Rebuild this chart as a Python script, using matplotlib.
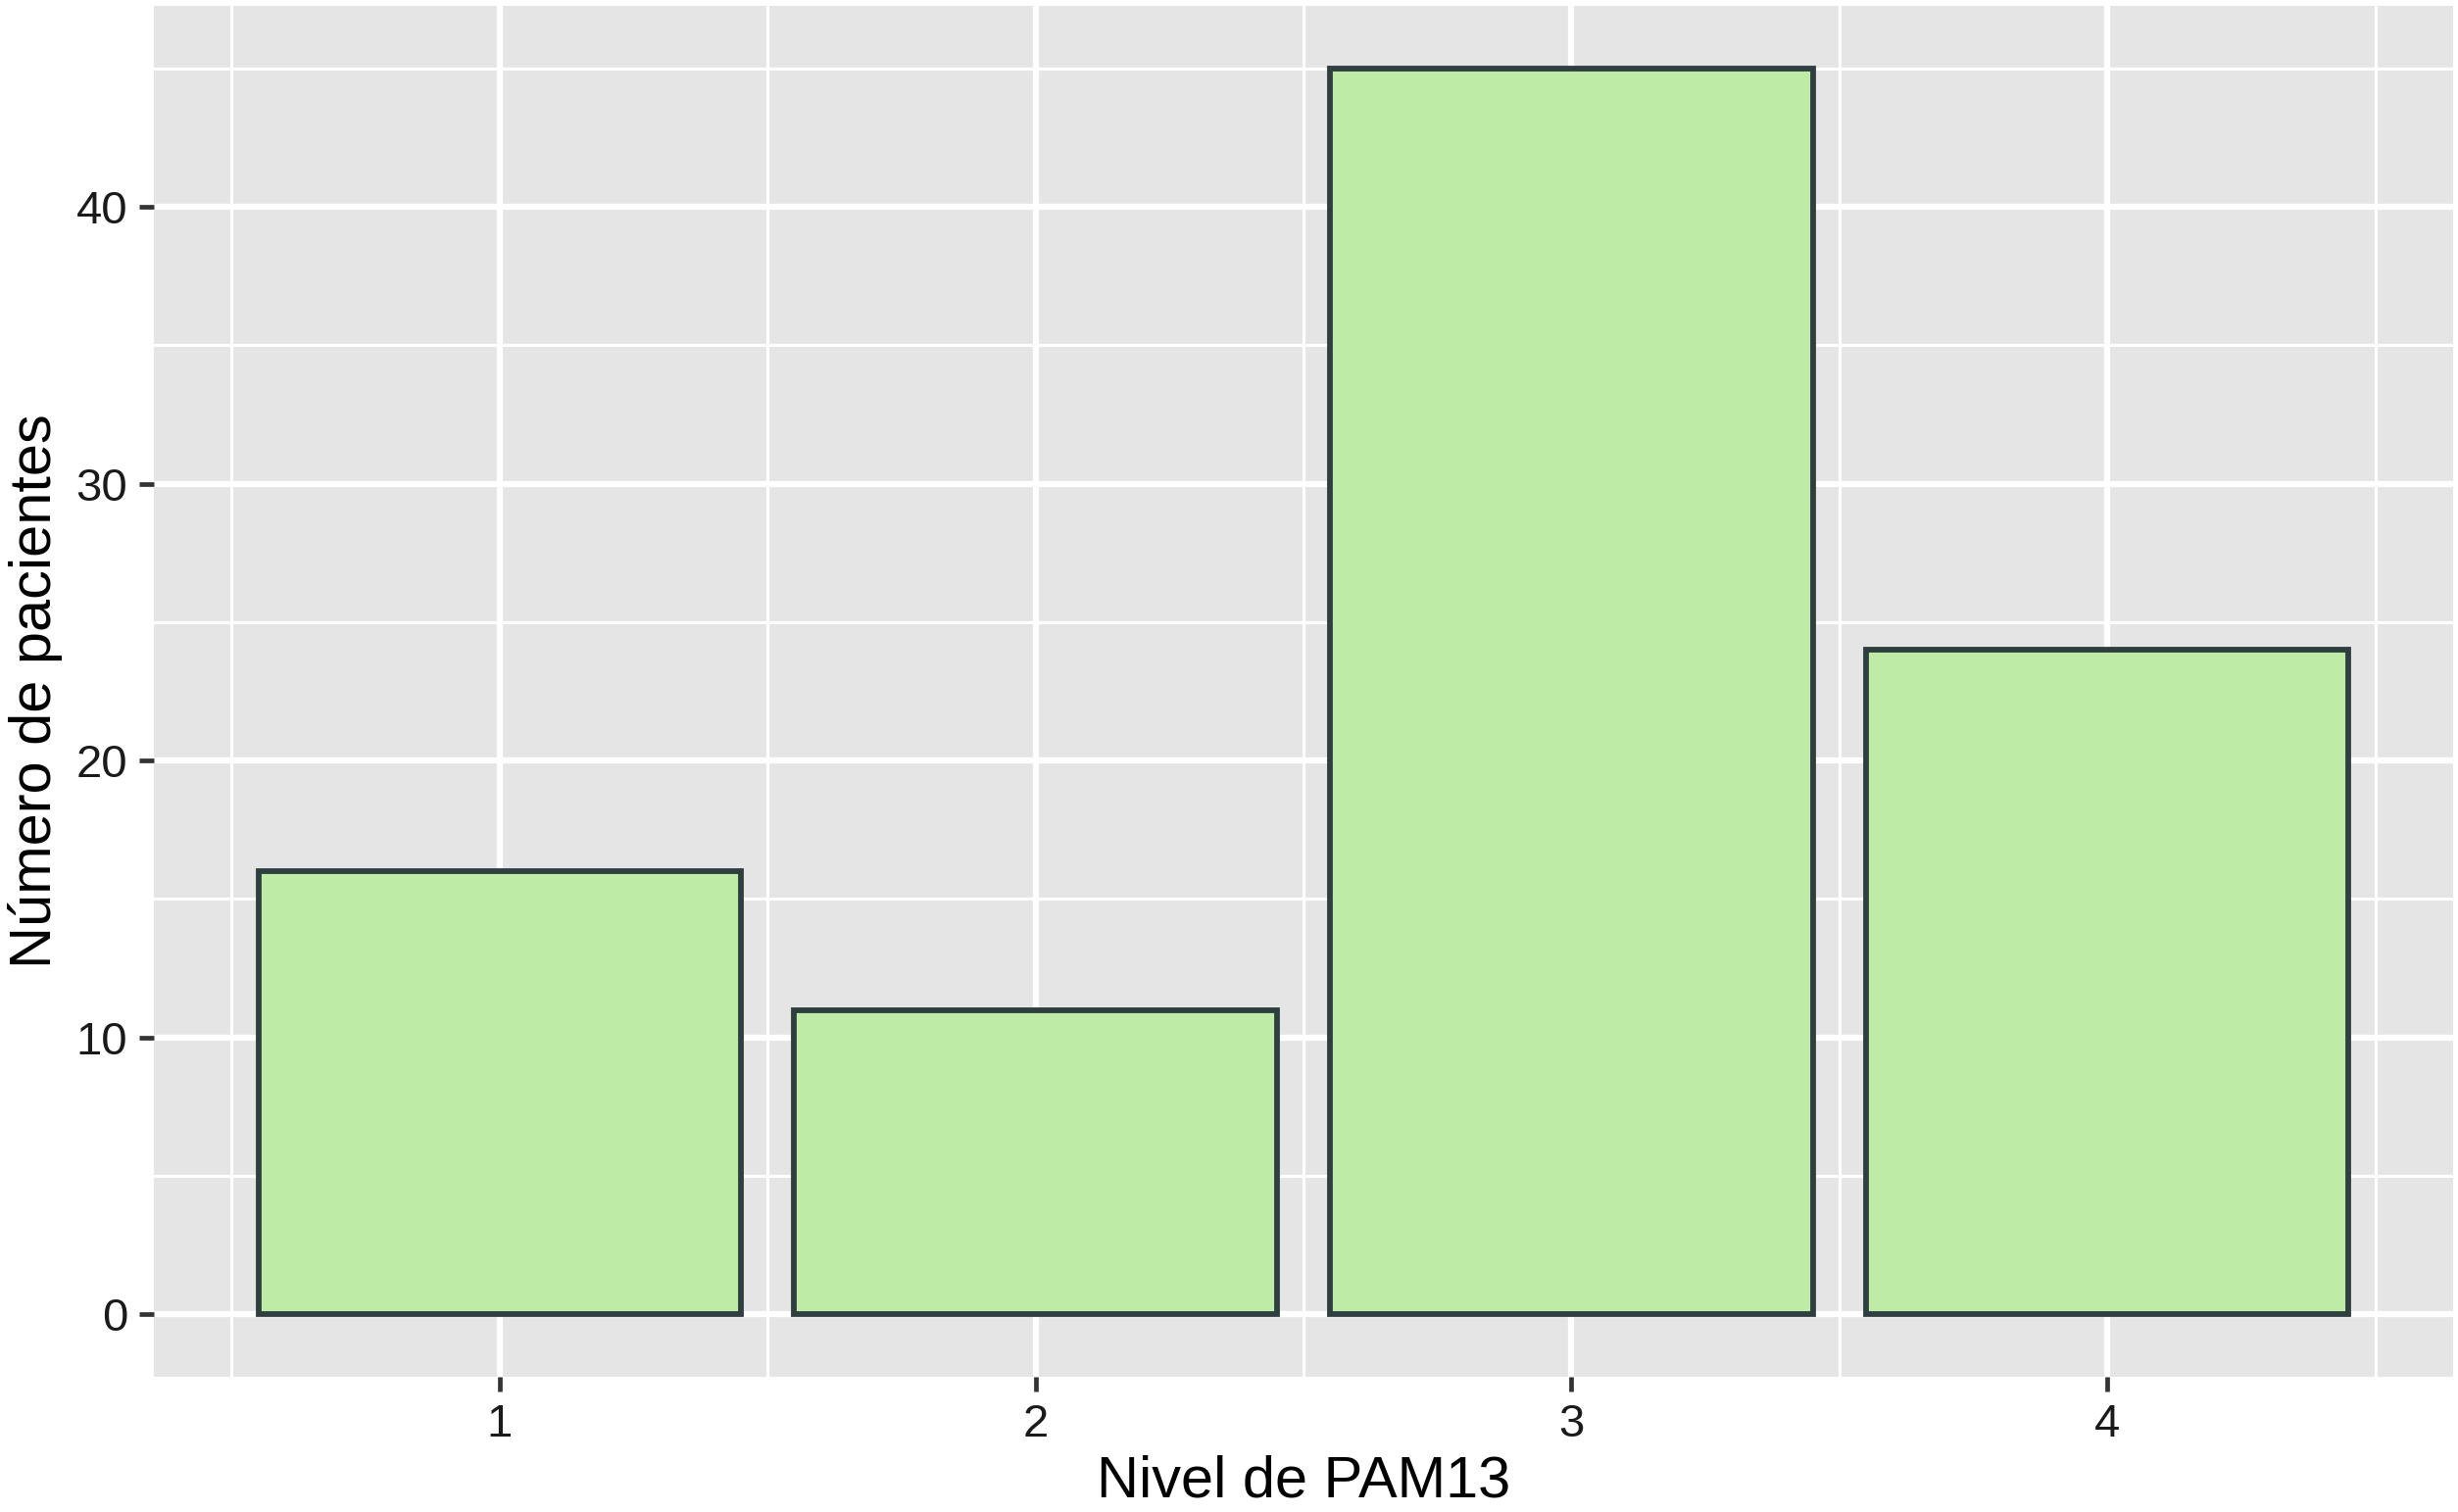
import numpy as np
import matplotlib
matplotlib.use("Agg")
import matplotlib.pyplot as plt

# data
niveles = [1, 2, 3, 4]
pacientes = [16, 11, 45, 24]
xlabel = "Nivel de PAM13"
ylabel = "Número de pacientes"

plt.rcParams['font.family'] = ['Liberation Sans', 'DejaVu Sans']

fig = plt.figure(figsize=(25.08, 15.43), dpi=100)
ax = fig.add_axes([157 / 2508, 138 / 1543, (2503 - 157) / 2508, (1537 - 138) / 1543])

ax.set_facecolor('#E5E5E5')
for s in ax.spines.values():
    s.set_visible(False)

ax.bar(niveles, pacientes, width=0.9, color='#BEEBA6', edgecolor='#2F3F3F',
       linewidth=4.2, zorder=3)

ymax = max(pacientes)
ax.set_ylim(-0.05 * ymax, 1.05 * ymax)
ax.set_xlim(0.55 - 0.195, 4.45 + 0.195)

ax.set_xticks(niveles)
ax.set_xticks([0.5, 1.5, 2.5, 3.5, 4.5], minor=True)
ax.set_yticks([0, 10, 20, 30, 40])
ax.set_yticks([5, 15, 25, 35, 45], minor=True)

ax.grid(which='major', color='white', linewidth=4.5, zorder=0)
ax.grid(which='minor', color='white', linewidth=2.3, zorder=0)
ax.set_axisbelow(True)

ax.tick_params(which='major', length=10.7, width=3.4, color='#333333',
               labelsize=34, labelcolor='#1A1A1A', pad=8.6)
ax.tick_params(which='minor', length=0)

ax.set_xlabel(xlabel, fontsize=42.8, labelpad=6, color='black')
ax.set_ylabel(ylabel, fontsize=42.8, labelpad=10, color='black')

fig.savefig("out.png", dpi=100, facecolor='white')
